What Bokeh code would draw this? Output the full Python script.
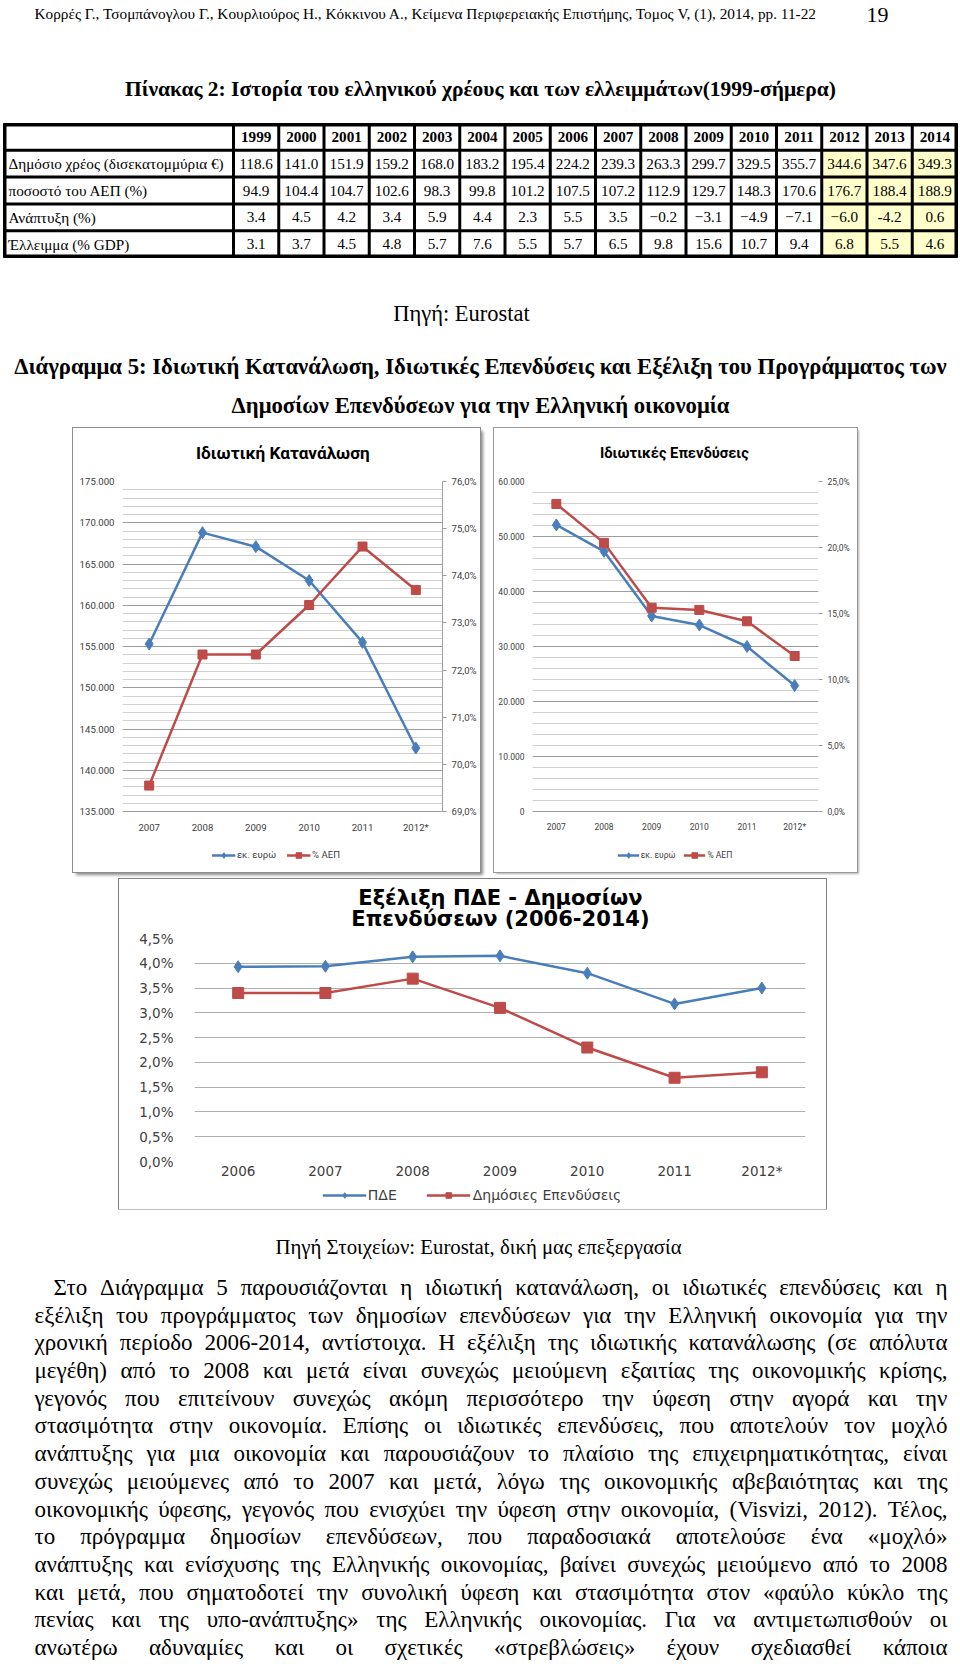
import os
import glob
from bokeh.plotting import figure
from bokeh.models import (Range1d, FactorRange, LinearAxis, FixedTicker, CustomJSTickFormatter,
                          Legend, LegendItem, Spacer, Column, Row)
from bokeh.layouts import column, row
from bokeh.core.properties import value
from bokeh.embed import file_html
from bokeh.resources import INLINE

try:
    from PIL import ImageFont
except Exception:
    ImageFont = None

# ---------------------------------------------------------------- data
header_text = ("Κορρές Γ., Τσομπάνογλου Γ., Κουρλιούρος Η., Κόκκινου Α., Κείμενα Περιφερειακής "
               "Επιστήμης, Τομος V, (1), 2014, pp. 11-22")
page_no = "19"
table_title = "Πίνακας 2: Ιστορία του ελληνικού χρέους και των ελλειμμάτων(1999-σήμερα)"
table_years = ["1999", "2000", "2001", "2002", "2003", "2004", "2005", "2006",
               "2007", "2008", "2009", "2010", "2011", "2012", "2013", "2014"]
row_labels = ["Δημόσιο χρέος (δισεκατομμύρια €)", "ποσοστό του ΑΕΠ (%)",
              "Ανάπτυξη (%)", "Έλλειμμα (% GDP)"]
debt_bn = ["118.6", "141.0", "151.9", "159.2", "168.0", "183.2", "195.4", "224.2",
           "239.3", "263.3", "299.7", "329.5", "355.7", "344.6", "347.6", "349.3"]
debt_pct_gdp = ["94.9", "104.4", "104.7", "102.6", "98.3", "99.8", "101.2", "107.5",
                "107.2", "112.9", "129.7", "148.3", "170.6", "176.7", "188.4", "188.9"]
growth = ["3.4", "4.5", "4.2", "3.4", "5.9", "4.4", "2.3", "5.5",
          "3.5", "−0.2", "−3.1", "−4.9", "−7.1", "−6.0", "-4.2", "0.6"]
deficit = ["3.1", "3.7", "4.5", "4.8", "5.7", "7.6", "5.5", "5.7",
           "6.5", "9.8", "15.6", "10.7", "9.4", "6.8", "5.5", "4.6"]
highlight_years = ["2012", "2013", "2014"]
source_1 = "Πηγή: Eurostat"
diagram_title = ["Διάγραμμα 5: Ιδιωτική Κατανάλωση, Ιδιωτικές Επενδύσεις και Εξέλιξη του Προγράμματος των",
                 "Δημοσίων Επενδύσεων για την Ελληνική οικονομία"]

# chart 1 : private consumption
cons_title = "Ιδιωτική Κατανάλωση"
cons_years = ["2007", "2008", "2009", "2010", "2011", "2012*"]
cons_eur = [155300, 168800, 167100, 163000, 155500, 142700]
cons_pct = [69.55, 72.33, 72.33, 73.38, 74.62, 73.70]
cons_left_ticks = [135000, 140000, 145000, 150000, 155000, 160000, 165000, 170000, 175000]
cons_right_ticks = [69, 70, 71, 72, 73, 74, 75, 76]

# chart 2 : private investment
inv_title = "Ιδιωτικές Επενδύσεις"
inv_years = ["2007", "2008", "2009", "2010", "2011", "2012*"]
inv_eur = [52100, 47300, 35550, 33900, 30000, 22900]
inv_pct = [23.3, 20.35, 15.44, 15.27, 14.41, 11.78]
inv_left_ticks = [0, 10000, 20000, 30000, 40000, 50000, 60000]
inv_right_ticks = [0, 5, 10, 15, 20, 25]

legend_labels_12 = ["εκ. ευρώ", "% ΑΕΠ"]

# chart 3 : public investment programme
pde_title = ["Εξέλιξη ΠΔΕ - Δημοσίων", "Επενδύσεων (2006-2014)"]
pde_years = ["2006", "2007", "2008", "2009", "2010", "2011", "2012*"]
pde = [3.93, 3.94, 4.13, 4.15, 3.80, 3.18, 3.50]
pub_inv = [3.40, 3.40, 3.69, 3.10, 2.30, 1.69, 1.80]
pde_ticks = [0.0, 0.5, 1.0, 1.5, 2.0, 2.5, 3.0, 3.5, 4.0, 4.5]
legend_labels_3 = ["ΠΔΕ", "Δημόσιες Επενδύσεις"]

source_2 = "Πηγή Στοιχείων: Eurostat, δική μας επεξεργασία"
body_lines = [
    "Στο Διάγραμμα 5 παρουσιάζονται η ιδιωτική κατανάλωση, οι ιδιωτικές επενδύσεις και η",
    "εξέλιξη του προγράμματος των δημοσίων επενδύσεων για την Ελληνική οικονομία για την",
    "χρονική περίοδο 2006-2014, αντίστοιχα. Η εξέλιξη της ιδιωτικής κατανάλωσης (σε απόλυτα",
    "μεγέθη) από το 2008 και μετά είναι συνεχώς μειούμενη εξαιτίας της οικονομικής κρίσης,",
    "γεγονός που επιτείνουν συνεχώς ακόμη περισσότερο την ύφεση στην αγορά και την",
    "στασιμότητα στην οικονομία. Επίσης οι ιδιωτικές επενδύσεις, που αποτελούν τον μοχλό",
    "ανάπτυξης για μια οικονομία και παρουσιάζουν το πλαίσιο της επιχειρηματικότητας, είναι",
    "συνεχώς μειούμενες από το 2007 και μετά, λόγω της οικονομικής αβεβαιότητας και της",
    "οικονομικής ύφεσης, γεγονός που ενισχύει την ύφεση στην οικονομία, (Visvizi, 2012). Τέλος,",
    "το πρόγραμμα δημοσίων επενδύσεων, που παραδοσιακά αποτελούσε  ένα «μοχλό»",
    "ανάπτυξης και ενίσχυσης της Ελληνικής οικονομίας, βαίνει συνεχώς μειούμενο από το 2008",
    "και μετά, που σηματοδοτεί την συνολική ύφεση και στασιμότητα στον «φαύλο κύκλο της",
    "πενίας και της υπο-ανάπτυξης» της Ελληνικής οικονομίας. Για να αντιμετωπισθούν οι",
    "ανωτέρω αδυναμίες και οι σχετικές «στρεβλώσεις» έχουν σχεδιασθεί κάποια",
]

# ---------------------------------------------------------------- fonts / measuring
def find_font(*names):
    for n in names:
        for root in ("/usr/share/fonts", "/usr/local/share/fonts", os.path.expanduser("~/.fonts")):
            hits = sorted(glob.glob(os.path.join(root, "**", n), recursive=True))
            if hits:
                return hits[0]
    return None


_fcache = {}


def measure(text, path, size):
    if ImageFont is None or path is None:
        return None
    if path not in _fcache:
        try:
            _fcache[path] = ImageFont.truetype(path, 100)
        except Exception:
            _fcache[path] = None
    f = _fcache[path]
    if f is None:
        return None
    return f.getlength(text) * size / 100.0


def fit(text, path, target, default):
    w = measure(text, path, 100)
    if not w:
        return default
    return round(100.0 * target / w, 1)


SERIF = "Liberation Serif"
serif_reg = find_font("LiberationSerif-Regular.ttf")
serif_bold = find_font("LiberationSerif-Bold.ttf")
narrow = find_font("LiberationSansNarrow-Regular.ttf")
if narrow:
    SANS = "Liberation Sans Narrow"
    sans_reg = narrow
    sans_bold = find_font("LiberationSansNarrow-Bold.ttf")
else:
    SANS = "Roboto"
    sans_reg = find_font("Roboto-Regular.ttf")
    sans_bold = find_font("Roboto-Bold.ttf")
WIDE = "DejaVu Sans"
wide_reg = find_font("DejaVuSans.ttf")
wide_bold = find_font("DejaVuSans-Bold.ttf")

BLUE = "#4A7EBB"
RED = "#BE4B48"
W = 960


def px(s):
    return "%.1fpx" % s


def blank_fig(width, height, y_top, y_bottom, x0=0):
    p = figure(width=width, height=height, x_range=Range1d(x0, x0 + width),
               y_range=Range1d(y_bottom, y_top),
               output_backend="svg", toolbar_location=None, min_border=0,
               x_axis_type=None, y_axis_type=None, outline_line_color=None)
    p.background_fill_color = "white"
    p.border_fill_color = "white"
    return p


def add_text(p, xs, ys, texts, font, size, align="left", bold=False, color="black"):
    p.text(x=xs, y=ys, text=texts, text_font=value(font), text_font_size=px(size),
           text_align=align, text_baseline="middle",
           text_font_style="bold" if bold else "normal", text_color=color)


# ---------------------------------------------------------------- top page part
top = blank_fig(W, 428, 0, 428)
add_text(top, [34], [13], [header_text], SERIF, fit(header_text, serif_reg, 784, 15))
add_text(top, [877], [14], [page_no], SERIF, 22, align="center")
add_text(top, [480], [88], [table_title], SERIF, fit(table_title, serif_bold, 711, 20),
         align="center", bold=True)

# table grid
T_L, T_LAB, T_R = 3.0, 233.0, 957.0
col_bounds = [T_L] + [T_LAB + i * (T_R - T_LAB) / 16.0 for i in range(17)]
T_TOP, T_ROW = 123.0, 26.8
row_bounds = [T_TOP + i * T_ROW for i in range(6)]
top.quad(left=[T_L], right=[T_R], top=[row_bounds[0]], bottom=[row_bounds[-1]], color="black")
rows_data = [debt_bn, debt_pct_gdp, growth, deficit]
cl, cr, ct, cb, cc = [], [], [], [], []
for r in range(5):
    for c in range(17):
        cl.append(col_bounds[c] + (3 if c == 0 else 1.5))
        cr.append(col_bounds[c + 1] - (3 if c == 16 else 1.5))
        ct.append(row_bounds[r] + (3 if r == 0 else 1.5))
        cb.append(row_bounds[r + 1] - (3 if r == 4 else 1.5))
        yellow = r > 0 and c > 0 and table_years[c - 1] in highlight_years
        cc.append("#FFFFCC" if yellow else "white")
top.quad(left=cl, right=cr, top=ct, bottom=cb, fill_color=cc, line_color=None)

tsize = fit(row_labels[0], serif_reg, 215, 15)
ycent = [(row_bounds[i] + row_bounds[i + 1]) / 2.0 for i in range(5)]
xcent = [(col_bounds[i] + col_bounds[i + 1]) / 2.0 for i in range(1, 17)]
add_text(top, [8] * 4, ycent[1:], row_labels, SERIF, tsize)
add_text(top, xcent, [ycent[0]] * 16, table_years, SERIF, tsize, align="center", bold=True)
vx, vy, vt = [], [], []
for r, vals in enumerate(rows_data):
    for c, v in enumerate(vals):
        vx.append(xcent[c])
        vy.append(ycent[r + 1])
        vt.append(v)
add_text(top, vx, vy, vt, SERIF, tsize, align="center")

add_text(top, [461], [313], [source_1], SERIF, 22.5, align="center")
dsize = fit(diagram_title[0], serif_bold, 933, 20)
add_text(top, [480, 480], [366, 405], diagram_title, SERIF, dsize, align="center", bold=True)

# ---------------------------------------------------------------- charts
THOUS = r"""
var s = Math.round(tick).toString();
return s.replace(/\B(?=(\d{3})+(?!\d))/g, '.');
"""
PCT = "return tick.toFixed(1).replace('.', ',') + '%';"


def title_fig(width, height, lines, ys, xc, font, size):
    t = blank_fig(width, height, 0, height)
    add_text(t, [xc] * len(lines), ys, lines, font, size, align="center", bold=True)
    return t


def legend_fig(width, height, labels, specs, font, size, glyph_w, spacing):
    lf = figure(width=width, height=height, x_range=Range1d(0, 1), y_range=Range1d(0, 1),
                output_backend="svg", toolbar_location=None, min_border=0,
                x_axis_type=None, y_axis_type=None, outline_line_color=None)
    items = []
    for lab, (color, marker, msize) in zip(labels, specs):
        # swatch renderers: points outside the clipped frame, used only by the legend
        lr = lf.line(x=[-5, -4], y=[-5, -5], line_color=color, line_width=2.5)
        sr = lf.scatter(x=[-5], y=[-5], marker=marker, size=msize, color=color)
        items.append(LegendItem(label=lab, renderers=[lr, sr]))
    leg = Legend(items=items, location="center", orientation="horizontal")
    leg.label_text_font = font
    leg.label_text_font_size = px(size)
    leg.label_text_color = "#404040"
    leg.glyph_width = glyph_w
    leg.glyph_height = 14
    leg.label_height = 14
    leg.label_standoff = 2
    leg.spacing = spacing
    leg.padding = 0
    leg.margin = 0
    leg.border_line_color = None
    leg.background_fill_alpha = 0
    lf.add_layout(leg)
    return lf


def dual_chart(cats, left_vals, right_vals, lrange, lticks, lminor, rrange, rticks,
               width, height, borders, fsize, axis_line):
    p = figure(width=width, height=height, x_range=FactorRange(factors=cats),
               y_range=Range1d(*lrange), output_backend="svg", toolbar_location=None,
               min_border_left=borders[0], min_border_right=borders[1],
               min_border_top=borders[2], min_border_bottom=borders[3],
               outline_line_color=None)
    p.extra_y_ranges = {"pct": Range1d(*rrange)}
    p.yaxis[0].ticker = FixedTicker(ticks=lticks)
    p.yaxis[0].formatter = CustomJSTickFormatter(code=THOUS)
    p.ygrid.ticker = FixedTicker(ticks=lticks, minor_ticks=lminor)
    p.ygrid.grid_line_color = "#9c9c9c"
    p.ygrid.minor_grid_line_color = "#d0d0d0"
    p.xgrid.visible = False

    rax = LinearAxis(y_range_name="pct", ticker=FixedTicker(ticks=rticks),
                     formatter=CustomJSTickFormatter(code=PCT))
    p.add_layout(rax, "right")

    for ax in [p.yaxis[0], rax, p.xaxis[0]]:
        ax.major_label_text_font = SANS
        ax.major_label_text_font_size = px(fsize)
        ax.major_label_text_color = "#404040"
        ax.minor_tick_line_color = None
    p.yaxis[0].axis_line_color = None
    p.yaxis[0].major_tick_line_color = None
    p.yaxis[0].major_tick_out = 0
    p.yaxis[0].major_label_standoff = 8
    rax.axis_line_color = "#9c9c9c" if axis_line else None
    rax.major_tick_line_color = "#9c9c9c"
    rax.major_tick_in = 0
    rax.major_tick_out = 4
    rax.major_label_standoff = 5
    p.xaxis[0].axis_line_color = "#9c9c9c"
    p.xaxis[0].major_tick_line_color = None
    p.xaxis[0].major_tick_out = 0
    p.xaxis[0].major_label_standoff = 10

    p.line(cats, left_vals, line_color=BLUE, line_width=2.5)
    p.scatter(cats, left_vals, marker="diamond", size=12, color=BLUE)
    p.line(cats, right_vals, line_color=RED, line_width=2.5, y_range_name="pct")
    p.scatter(cats, right_vals, marker="square", size=9, color=RED, y_range_name="pct")
    return p


specs_12 = [(BLUE, "diamond", 10), (RED, "square", 8)]

# chart 1 box: x 73..480, y 428..872
f1 = fit("175.000", sans_reg, 35, 10)
t1 = title_fig(407, 38, [cons_title], [24], 204, SANS,
               fit(cons_title, sans_bold, 161, 19) * 1.08)
p1 = dual_chart(cons_years, cons_eur, cons_pct,
                (135000, 175000), cons_left_ticks, [135000 + 1000 * i for i in range(41)],
                (69, 76), cons_right_ticks,
                407, 371, (49, 38, 15, 26), f1, True)
lg1 = Row(children=[legend_fig(405, 35, legend_labels_12, specs_12, SANS, f1, 24, 10),
                    Spacer(width=2, height=35)], spacing=0)
box1 = Column(children=[t1, p1, lg1], spacing=0,
              styles={"outline": "1px solid #8c8c8c", "box-shadow": "3px 3px 3px #8a8a8a"})

# chart 2 box: x 494..857, y 428..872
f2 = 8.5
t2 = title_fig(363, 38, [inv_title], [24], 180, SANS,
               fit(inv_title, sans_bold, 138, 17) * 1.08)
p2 = dual_chart(inv_years, inv_eur, inv_pct,
                (0, 60000), inv_left_ticks, [2000 * i for i in range(31)],
                (0, 25), inv_right_ticks,
                363, 371, (38, 39, 15, 26), f2, False)
lg2 = Row(children=[legend_fig(361, 35, legend_labels_12, specs_12, SANS, f2, 22, 8),
                    Spacer(width=2, height=35)], spacing=0)
box2 = Column(children=[t2, p2, lg2], spacing=0,
              styles={"outline": "1px solid #9a9a9a", "box-shadow": "2px 2px 2px #b0b0b0"})

# chart 3 box: x 119..826, y 879..1209
P3_W, P3_L, P3_R = 707, 75, 21
t3 = title_fig(P3_W, 51, pde_title, [18, 39], 354, WIDE, 21)
p3 = figure(width=P3_W, height=251, x_range=FactorRange(factors=pde_years), y_range=Range1d(0, 4.5),
            output_backend="svg", toolbar_location=None,
            min_border_left=P3_L, min_border_right=P3_R, min_border_top=8, min_border_bottom=18,
            outline_line_color=None)
p3.yaxis[0].ticker = FixedTicker(ticks=pde_ticks)
p3.yaxis[0].formatter = CustomJSTickFormatter(code=PCT)
p3.ygrid.ticker = FixedTicker(ticks=pde_ticks)
p3.ygrid.grid_line_color = "#b0b0b0"
p3.xgrid.visible = False
for ax in [p3.yaxis[0], p3.xaxis[0]]:
    ax.major_label_text_font = WIDE
    ax.major_label_text_font_size = "13.5px"
    ax.major_label_text_color = "#404040"
    ax.axis_line_color = None
    ax.major_tick_line_color = None
    ax.minor_tick_line_color = None
    ax.major_tick_out = 0
p3.yaxis[0].major_label_standoff = 21
p3.xaxis[0].major_label_standoff = 1
p3.line(pde_years, pde, line_color=BLUE, line_width=2.5)
p3.scatter(pde_years, pde, marker="diamond", size=12, color=BLUE)
p3.line(pde_years, pub_inv, line_color=RED, line_width=2.5)
p3.scatter(pde_years, pub_inv, marker="square", size=11, color=RED)
lg3 = Row(children=[legend_fig(P3_W - 2, 28, legend_labels_3,
                               [(BLUE, "diamond", 10), (RED, "square", 11)], WIDE, 14, 44, 30),
                    Spacer(width=2, height=28)], spacing=0)
box3 = Column(children=[t3, p3, lg3], spacing=0, styles={"outline": "1px solid #7f7f7f"})

# ---------------------------------------------------------------- bottom page part
bot = blank_fig(W, 455, 1209, 1664)
add_text(bot, [478], [1246], [source_2], SERIF, fit(source_2, serif_reg, 407, 19), align="center")

TEXT_L, TEXT_R, INDENT_L = 34.0, 947.0, 53.0
line_y0, line_dy = 1287.0, 27.69
S = 23.0
nat = []
for i, ln in enumerate(body_lines):
    w1 = measure(ln, serif_reg, 1.0)
    if w1:
        left = INDENT_L if i == 0 else TEXT_L
        nat.append((TEXT_R - left) / (w1 * 1.01))
if nat:
    S = min(S, min(nat))
    wx, wy, wt = [], [], []
    for i, ln in enumerate(body_lines):
        left = INDENT_L if i == 0 else TEXT_L
        words = ln.split()
        ws = [measure(w, serif_reg, S) for w in words]
        gap = (TEXT_R - left - sum(ws)) / max(1, len(words) - 1)
        x = left
        for w, wd in zip(words, ws):
            wx.append(x)
            wy.append(line_y0 + i * line_dy)
            wt.append(w)
            x += wd + gap
    add_text(bot, wx, wy, wt, SERIF, S)
else:
    xs = [INDENT_L if i == 0 else TEXT_L for i in range(len(body_lines))]
    ys = [line_y0 + i * line_dy for i in range(len(body_lines))]
    add_text(bot, xs, ys, body_lines, SERIF, 20)

# ---------------------------------------------------------------- layout
charts_row = row(Spacer(width=73, height=444), box1, Spacer(width=14, height=444), box2,
                 Spacer(width=W - 73 - 407 - 14 - 363, height=444))
chart3_row = row(Spacer(width=119, height=330), box3, Spacer(width=W - 119 - P3_W, height=330))
page = column(top, charts_row, Spacer(width=W, height=7), chart3_row, bot)

open("out.html", "w").write(file_html(page, INLINE))
